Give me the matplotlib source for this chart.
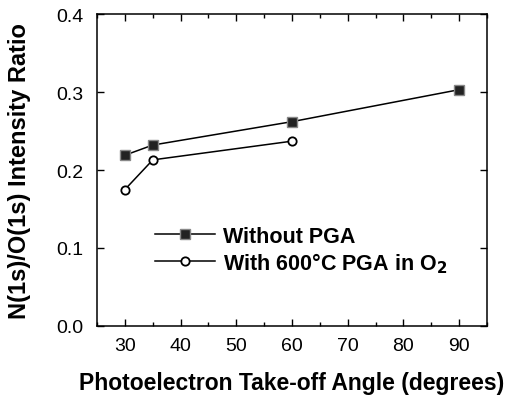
import matplotlib.pyplot as plt
from matplotlib.ticker import MultipleLocator

plt.rcParams['font.family'] = ['Liberation Sans', 'DejaVu Sans']

angle_no_pga = [30, 35, 60, 90]
ratio_no_pga = [0.219, 0.232, 0.262, 0.303]
angle_pga = [30, 35, 60]
ratio_pga = [0.175, 0.213, 0.237]

fig = plt.figure(figsize=(5.11, 4.02), dpi=100)
ax = fig.add_axes([0.19, 0.1866, 0.763, 0.776])

ax.plot(angle_no_pga, ratio_no_pga, '-', color='black', lw=1.1,
        marker='s', markersize=7, markerfacecolor='#222222',
        markeredgecolor='#888888', markeredgewidth=1.0, label='Without PGA')
ax.plot(angle_pga, ratio_pga, '-', color='black', lw=1.1,
        marker='o', markersize=6, markerfacecolor='white',
        markeredgecolor='black', markeredgewidth=1.3,
        label='With 600°C PGA in O$_\\mathbf{2}$')

ax.set_xlim(25, 95)
ax.set_ylim(0, 0.4)
ax.xaxis.set_major_locator(MultipleLocator(10))
ax.xaxis.set_minor_locator(MultipleLocator(5))
ax.yaxis.set_major_locator(MultipleLocator(0.1))
ax.yaxis.set_major_formatter(plt.FormatStrFormatter('%.1f'))
ax.tick_params(which='both', direction='in', top=True, right=True,
               labelsize=14, colors='black')
ax.tick_params(which='major', length=5, width=1)
ax.tick_params(which='minor', length=3, width=1)
ax.tick_params(axis='x', pad=8)
ax.tick_params(axis='y', pad=10)
for s in ax.spines.values():
    s.set_linewidth(1.1)

ax.set_xlabel('Photoelectron Take-off Angle (degrees)', fontsize=16.5,
              fontweight='bold', labelpad=12)
ax.set_ylabel('N(1s)/O(1s) Intensity Ratio', fontsize=17,
              fontweight='bold', labelpad=18)

leg = ax.legend(loc='lower left', bbox_to_anchor=(0.149, 0.165), frameon=False,
                handlelength=2.8, handletextpad=0.33, labelspacing=0.15,
                borderaxespad=0, borderpad=0,
                prop={'weight': 'bold', 'size': 15.5})

fig.savefig('out.png', dpi=100)
